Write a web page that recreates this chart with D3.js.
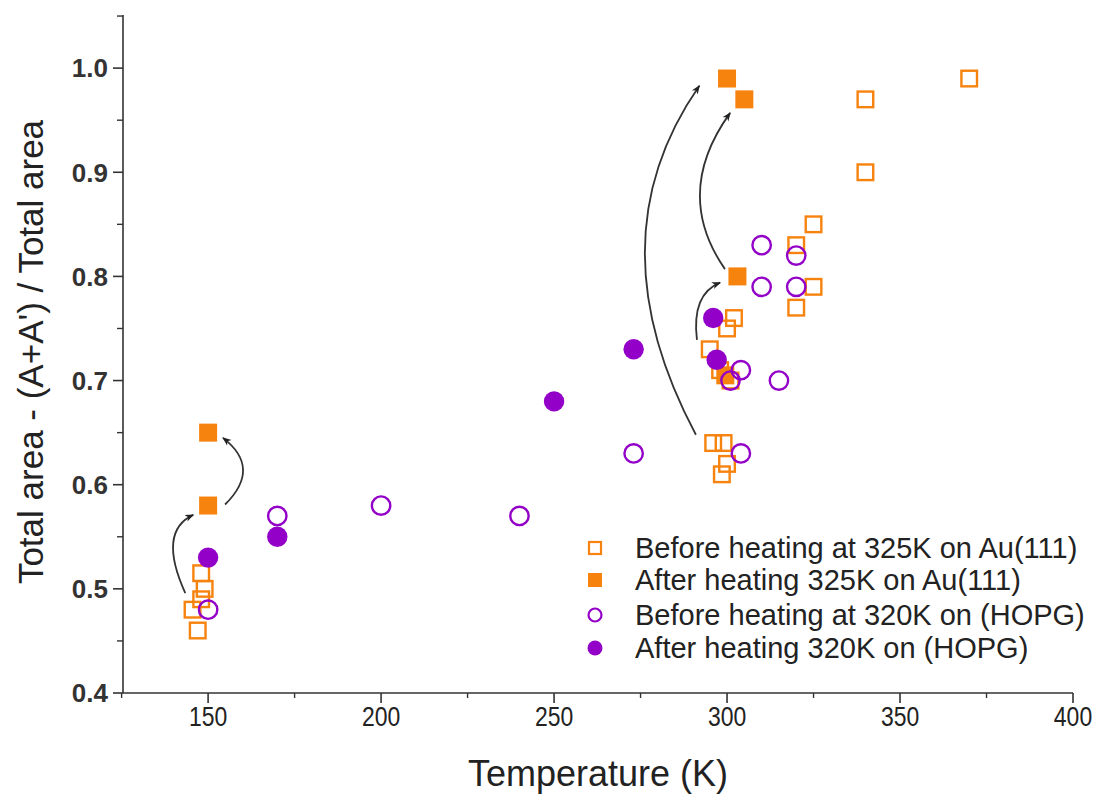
<!DOCTYPE html>
<html>
<head>
<meta charset="utf-8">
<script src="https://cdn.jsdelivr.net/npm/d3@7"></script>
<style>
  html, body { margin: 0; padding: 0; background: #fff; }
  svg { display: block; font-family: "Liberation Sans", Arial, sans-serif; }
</style>
</head>
<body>
<svg id="chart" width="1102" height="796"></svg>
<script>
// ---- data ----
const beforeAuT = [370, 340, 340, 325, 320, 325, 320, 302, 300, 295, 298, 301, 296, 299, 300, 298.5, 148, 149, 148, 145.5, 147];
const beforeAuY = [0.99, 0.97, 0.90, 0.85, 0.83, 0.79, 0.77, 0.76, 0.75, 0.73, 0.71, 0.70, 0.64, 0.64, 0.62, 0.61, 0.515, 0.50, 0.49, 0.48, 0.46];
const afterAuT = [300, 305, 303, 299.5, 150, 150];
const afterAuY = [0.99, 0.97, 0.80, 0.705, 0.65, 0.58];
const beforeHopgT = [310, 320, 310, 320, 304, 301, 315, 304, 273, 240, 200, 170, 150];
const beforeHopgY = [0.83, 0.82, 0.79, 0.79, 0.71, 0.70, 0.70, 0.63, 0.63, 0.57, 0.58, 0.57, 0.48];
const afterHopgT = [296, 297, 273, 250, 170, 150];
const afterHopgY = [0.76, 0.72, 0.73, 0.68, 0.55, 0.53];
const xTicks = [150, 200, 250, 300, 350, 400];
const yTicks = [0.4, 0.5, 0.6, 0.7, 0.8, 0.9, 1.0];
const legendLabels = [
  "Before heating at 325K on Au(111)",
  "After heating 325K on Au(111)",
  "Before heating at 320K on (HOPG)",
  "After heating 320K on (HOPG)"
];
// curved arrows: [startT, startY, ctrlT, ctrlY, endT, endY]
const arrows = [
  [143.4, 0.496, 135.3, 0.555, 145.7, 0.571],
  [154.9, 0.581, 165.6, 0.616, 154.3, 0.645],
  [291.0, 0.648, 261.0, 0.835, 292.0, 0.983],
  [291.3, 0.739, 289.7, 0.783, 298.0, 0.794],
  [299.4, 0.807, 284.2, 0.880, 300.9, 0.957]
];

const ORANGE = "#f7830f";
const PURPLE = "#9300c8";

const svg = d3.select("#chart");
const x = d3.scaleLinear().domain([125.4, 400]).range([123, 1073]);
const y = d3.scaleLinear().domain([0.4, 1.051]).range([693, 15]);

// axes
const axisColor = "#333";
const gx = svg.append("g").attr("transform", "translate(0,693)");
gx.append("line").attr("x1", x.range()[0]).attr("x2", x.range()[1]).attr("stroke", axisColor).attr("stroke-width", 1.6);
const xMinor = d3.range(125, 401, 25).filter(v => !xTicks.includes(v));
gx.selectAll(".xmaj").data(xTicks).join("line")
  .attr("x1", d => x(d)).attr("x2", d => x(d)).attr("y1", 0).attr("y2", 10)
  .attr("stroke", axisColor).attr("stroke-width", 1.6);
gx.selectAll(".xmin").data(xMinor).join("line")
  .attr("x1", d => x(d)).attr("x2", d => x(d)).attr("y1", 0).attr("y2", 5)
  .attr("stroke", axisColor).attr("stroke-width", 1.4);
gx.selectAll(".xlab").data(xTicks).join("text")
  .attr("transform", d => `translate(${x(d)},33) scale(0.82,1)`)
  .attr("text-anchor", "middle")
  .attr("font-size", 28).attr("fill", "#222").text(d => d);

const gy = svg.append("g").attr("transform", "translate(123,0)");
gy.append("line").attr("y1", y.range()[0]).attr("y2", y.range()[1]).attr("stroke", axisColor).attr("stroke-width", 1.6);
const yMinor = [0.45, 0.55, 0.65, 0.75, 0.85, 0.95, 1.05];
gy.selectAll(".ymaj").data(yTicks).join("line")
  .attr("y1", d => y(d)).attr("y2", d => y(d)).attr("x1", 0).attr("x2", -10)
  .attr("stroke", axisColor).attr("stroke-width", 1.6);
gy.selectAll(".ymin").data(yMinor).join("line")
  .attr("y1", d => y(d)).attr("y2", d => y(d)).attr("x1", 0).attr("x2", -6)
  .attr("stroke", axisColor).attr("stroke-width", 1.4);
gy.selectAll(".ylab").data(yTicks).join("text")
  .attr("x", -15).attr("y", d => y(d)).attr("dy", "0.36em").attr("text-anchor", "end")
  .attr("font-size", 26).attr("font-weight", "bold").attr("fill", "#333").text(d => d.toFixed(1));

// axis titles
svg.append("text").attr("x", 598).attr("y", 786).attr("text-anchor", "middle")
  .attr("font-size", 36).attr("fill", "#222").text("Temperature (K)");
svg.append("text").attr("transform", "translate(43,352) rotate(-90)").attr("text-anchor", "middle")
  .attr("font-size", 35).attr("fill", "#222").text("Total area - (A+A') / Total area");

// arrow marker
svg.append("defs").append("marker").attr("id", "ah")
  .attr("viewBox", "0 0 10 10").attr("refX", 9).attr("refY", 5)
  .attr("markerWidth", 9).attr("markerHeight", 9).attr("markerUnits", "userSpaceOnUse")
  .attr("orient", "auto")
  .append("path").attr("d", "M0,1 L10,5 L0,9 L3,5 Z").attr("fill", "#222");

// markers
const sq = 18;
const beforeAu = beforeAuT.map((t, i) => [t, beforeAuY[i]]);
const afterAu = afterAuT.map((t, i) => [t, afterAuY[i]]);
const beforeH = beforeHopgT.map((t, i) => [t, beforeHopgY[i]]);
const afterH = afterHopgT.map((t, i) => [t, afterHopgY[i]]);

svg.append("g").selectAll("rect").data(beforeAu).join("rect")
  .attr("x", d => x(d[0]) - sq / 2 + 1.2).attr("y", d => y(d[1]) - sq / 2 + 1.2)
  .attr("width", sq - 2.4).attr("height", sq - 2.4)
  .attr("fill", "none").attr("stroke", ORANGE).attr("stroke-width", 2.4);
svg.append("g").selectAll("rect").data(afterAu).join("rect")
  .attr("x", d => x(d[0]) - sq / 2).attr("y", d => y(d[1]) - sq / 2)
  .attr("width", sq).attr("height", sq).attr("fill", ORANGE);
svg.append("g").selectAll("circle").data(beforeH).join("circle")
  .attr("cx", d => x(d[0])).attr("cy", d => y(d[1])).attr("r", 9.2)
  .attr("fill", "none").attr("stroke", PURPLE).attr("stroke-width", 2.4);
svg.append("g").selectAll("circle").data(afterH).join("circle")
  .attr("cx", d => x(d[0])).attr("cy", d => y(d[1])).attr("r", 10.2)
  .attr("fill", PURPLE);

// arrows
svg.append("g").selectAll("path").data(arrows).join("path")
  .attr("d", a => `M${x(a[0])},${y(a[1])} Q${x(a[2])},${y(a[3])} ${x(a[4])},${y(a[5])}`)
  .attr("fill", "none").attr("stroke", "#333").attr("stroke-width", 1.8)
  .attr("marker-end", "url(#ah)");

// legend
const lg = svg.append("g");
const rowsY = [548, 580, 615, 648];
const lm = 14;
lg.append("rect").attr("x", 595 - lm / 2 + 1).attr("y", rowsY[0] - lm / 2 + 1).attr("width", lm - 2).attr("height", lm - 2)
  .attr("fill", "none").attr("stroke", ORANGE).attr("stroke-width", 2.2);
lg.append("rect").attr("x", 595 - lm / 2).attr("y", rowsY[1] - lm / 2).attr("width", lm).attr("height", lm).attr("fill", ORANGE);
lg.append("circle").attr("cx", 595).attr("cy", rowsY[2]).attr("r", 6.5)
  .attr("fill", "none").attr("stroke", PURPLE).attr("stroke-width", 2.2);
lg.append("circle").attr("cx", 595).attr("cy", rowsY[3]).attr("r", 7.5).attr("fill", PURPLE);
lg.selectAll("text").data(legendLabels).join("text")
  .attr("x", 635).attr("y", (d, i) => rowsY[i]).attr("dy", "0.36em")
  .attr("font-size", 29).attr("fill", "#222").text(d => d);
</script>
</body>
</html>
